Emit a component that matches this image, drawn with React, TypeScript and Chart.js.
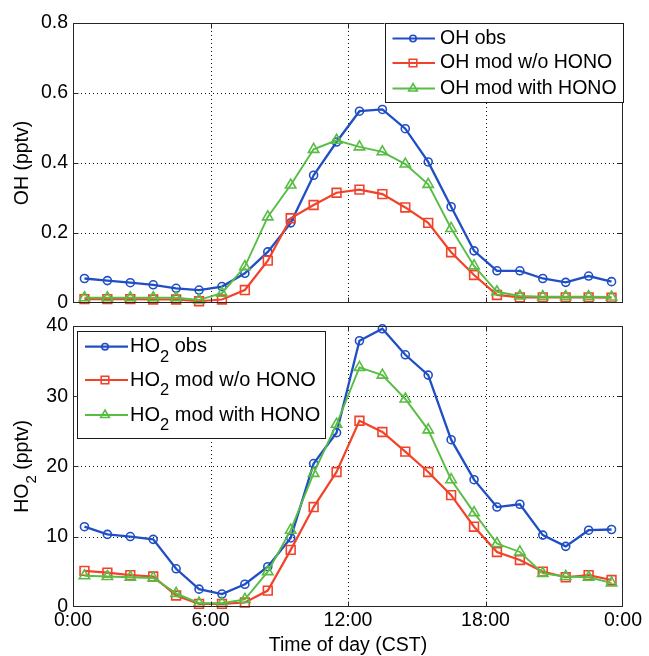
import { useEffect, useRef } from 'react';
import { Chart, registerables } from 'chart.js';

Chart.register(...registerables);

// ---- data (hour of day, CST) ----
const hours = [0.5, 1.5, 2.5, 3.5, 4.5, 5.5, 6.5, 7.5, 8.5, 9.5, 10.5, 11.5, 12.5, 13.5, 14.5, 15.5, 16.5, 17.5, 18.5, 19.5, 20.5, 21.5, 22.5, 23.5];

const ohObs = [0.070, 0.064, 0.058, 0.052, 0.042, 0.037, 0.047, 0.085, 0.146, 0.229, 0.365, 0.460, 0.548, 0.553, 0.498, 0.403, 0.275, 0.149, 0.092, 0.092, 0.070, 0.059, 0.077, 0.061];
const ohModNoHono = [0.011, 0.011, 0.011, 0.010, 0.010, 0.005, 0.010, 0.037, 0.121, 0.242, 0.280, 0.315, 0.324, 0.311, 0.273, 0.229, 0.145, 0.080, 0.023, 0.016, 0.016, 0.016, 0.016, 0.015];
const ohModHono = [0.015, 0.015, 0.015, 0.015, 0.015, 0.009, 0.028, 0.104, 0.246, 0.337, 0.439, 0.465, 0.446, 0.432, 0.397, 0.339, 0.213, 0.106, 0.032, 0.020, 0.018, 0.018, 0.018, 0.017];

const ho2Obs = [11.4, 10.3, 10.0, 9.6, 5.4, 2.5, 1.8, 3.2, 5.7, 9.8, 20.4, 24.8, 37.9, 39.6, 35.9, 33.0, 23.8, 18.1, 14.2, 14.6, 10.2, 8.6, 10.9, 11.0];
const ho2ModNoHono = [5.1, 4.85, 4.5, 4.3, 1.6, 0.4, 0.4, 0.6, 2.3, 8.1, 14.2, 19.2, 26.5, 24.9, 22.1, 19.2, 15.9, 11.4, 7.8, 6.65, 5.0, 4.2, 4.5, 3.8];
const ho2ModHono = [4.4, 4.3, 4.2, 4.1, 1.9, 0.5, 0.5, 1.05, 5.0, 10.9, 19.0, 26.0, 34.1, 33.0, 29.6, 25.2, 18.1, 13.4, 9.0, 7.8, 4.75, 4.3, 4.2, 3.4];

const timeTicks = [0, 6, 12, 18, 24];
const timeTickLabels = ['0:00', '6:00', '12:00', '18:00', '0:00'];

const ohLabels = ['OH obs', 'OH mod w/o HONO', 'OH mod with HONO'];
const ho2Labels = [' obs', ' mod w/o HONO', ' mod with HONO'];

const BLUE = '#204ec4';
const RED = '#f2432a';
const GREEN = '#57bd43';
const FONT = "'Liberation Sans', Arial, Helvetica, sans-serif";

type Part = { t: string; sub?: boolean };
type Marker = 'circle' | 'rect' | 'triangle';

function drawParts(ctx: CanvasRenderingContext2D, parts: Part[], x: number, y: number, size: number, subSize: number, subDy: number) {
  ctx.textAlign = 'left';
  ctx.textBaseline = 'middle';
  let cx = x;
  for (const p of parts) {
    ctx.font = `${p.sub ? subSize : size}px ${FONT}`;
    ctx.fillText(p.t, cx, p.sub ? y + subDy : y);
    cx += ctx.measureText(p.t).width;
  }
}
function measureParts(ctx: CanvasRenderingContext2D, parts: Part[], size: number, subSize: number) {
  let w = 0;
  for (const p of parts) {
    ctx.font = `${p.sub ? subSize : size}px ${FONT}`;
    w += ctx.measureText(p.t).width;
  }
  return w;
}
function drawMarker(ctx: CanvasRenderingContext2D, kind: Marker, x: number, y: number, r: number) {
  ctx.beginPath();
  if (kind === 'circle') {
    ctx.arc(x, y, r, 0, Math.PI * 2);
  } else if (kind === 'rect') {
    ctx.rect(x - r, y - r, 2 * r, 2 * r);
  } else {
    const h = r * Math.sqrt(3) / 2;
    ctx.moveTo(x, y - r);
    ctx.lineTo(x + h, y + r / 2);
    ctx.lineTo(x - h, y + r / 2);
    ctx.closePath();
  }
  ctx.stroke();
}

type LegendCfg = {
  anchor: 'right' | 'left';
  dx: number; dy: number; w: number; h: number;
  rows: number[]; lineX0: number; lineX1: number; markX: number; textX: number;
  size: number; subSize: number; subDy: number;
  items: { parts: Part[]; color: string; marker: Marker; markR: number; lw: number }[];
};
type DecorCfg = {
  legend: LegendCfg;
  yTitle: { parts: Part[]; x: number; size: number; subSize: number; subDy: number };
  xTitle: { text: string; y: number; size: number } | null;
  xMax: number; yMax: number;
};

function makeDecor(cfg: DecorCfg) {
  return {
    id: 'decor',
    beforeDatasetsDraw(chart: any) {
      const { ctx, chartArea: a, scales } = chart;
      ctx.save();
      ctx.strokeStyle = '#111';
      ctx.lineWidth = 1;
      ctx.setLineDash([1, 3]);
      for (const t of scales.x.ticks) {
        if (t.value <= 0 || t.value >= cfg.xMax) continue;
        const px = Math.round(scales.x.getPixelForValue(t.value)) + 0.5;
        ctx.beginPath(); ctx.moveTo(px, a.top); ctx.lineTo(px, a.bottom); ctx.stroke();
      }
      for (const t of scales.y.ticks) {
        if (t.value <= 0 || t.value >= cfg.yMax - 1e-9) continue;
        const py = Math.round(scales.y.getPixelForValue(t.value)) + 0.5;
        ctx.beginPath(); ctx.moveTo(a.left, py); ctx.lineTo(a.right, py); ctx.stroke();
      }
      ctx.restore();
    },
    afterDraw(chart: any) {
      const { ctx, chartArea: a, scales } = chart;
      ctx.save();
      // box
      ctx.setLineDash([]);
      ctx.strokeStyle = '#262626';
      ctx.lineWidth = 1;
      const L = Math.round(a.left) + 0.5, R = Math.round(a.right) - 0.5, T = Math.round(a.top) + 0.5, B = Math.round(a.bottom) - 0.5;
      ctx.strokeRect(L, T, R - L, B - T);
      // inward tick marks
      ctx.beginPath();
      for (const t of scales.x.ticks) {
        if (t.value <= 0 || t.value >= cfg.xMax) continue;
        const px = Math.round(scales.x.getPixelForValue(t.value)) + 0.5;
        ctx.moveTo(px, B); ctx.lineTo(px, B - 5);
        ctx.moveTo(px, T); ctx.lineTo(px, T + 5);
      }
      for (const t of scales.y.ticks) {
        if (t.value <= 0 || t.value >= cfg.yMax - 1e-9) continue;
        const py = Math.round(scales.y.getPixelForValue(t.value)) + 0.5;
        ctx.moveTo(L, py); ctx.lineTo(L + 5, py);
        ctx.moveTo(R, py); ctx.lineTo(R - 5, py);
      }
      ctx.stroke();

      // legend
      const lg = cfg.legend;
      const bx = lg.anchor === 'right' ? a.right - lg.w + lg.dx : a.left + lg.dx;
      const by = a.top + lg.dy;
      ctx.fillStyle = '#fff';
      ctx.fillRect(bx, by, lg.w, lg.h);
      ctx.strokeStyle = '#1a1a1a';
      ctx.strokeRect(Math.round(bx) + 0.5, Math.round(by) + 0.5, Math.round(lg.w) - 1, Math.round(lg.h) - 1);
      lg.items.forEach((it, i) => {
        const ry = by + lg.rows[i];
        ctx.strokeStyle = it.color;
        ctx.lineWidth = it.lw;
        ctx.beginPath(); ctx.moveTo(bx + lg.lineX0, ry); ctx.lineTo(bx + lg.lineX1, ry); ctx.stroke();
        ctx.lineWidth = 1.6;
        ctx.fillStyle = '#fff';
        drawMarker(ctx, it.marker, bx + lg.markX, ry, it.markR);
        ctx.fillStyle = '#000';
        drawParts(ctx, it.parts, bx + lg.textX, ry, lg.size, lg.subSize, lg.subDy);
      });

      // y title (rotated)
      const yt = cfg.yTitle;
      ctx.save();
      ctx.translate(yt.x, (a.top + a.bottom) / 2);
      ctx.rotate(-Math.PI / 2);
      ctx.fillStyle = '#000';
      const w = measureParts(ctx, yt.parts, yt.size, yt.subSize);
      drawParts(ctx, yt.parts, -w / 2, 0, yt.size, yt.subSize, yt.subDy);
      ctx.restore();

      // x title
      if (cfg.xTitle) {
        ctx.fillStyle = '#000';
        ctx.font = `${cfg.xTitle.size}px ${FONT}`;
        ctx.textAlign = 'center';
        ctx.textBaseline = 'middle';
        ctx.fillText(cfg.xTitle.text, (a.left + a.right) / 2, cfg.xTitle.y);
      }
      ctx.restore();
    },
  };
}

function series(vals: number[]) {
  return hours.map((h, i) => ({ x: h, y: vals[i] }));
}

function makeDatasets(obs: number[], noHono: number[], hono: number[], labels: string[]) {
  return [
    { label: labels[0], data: series(obs), borderColor: BLUE, borderWidth: 2.3, pointStyle: 'circle', pointRadius: 4, pointBorderWidth: 1.6, pointBorderColor: BLUE, pointBackgroundColor: 'rgba(0,0,0,0)', order: 2, clip: false as any },
    { label: labels[1], data: series(noHono), borderColor: RED, borderWidth: 2.2, pointStyle: 'rect', pointRadius: 6.2, pointBorderWidth: 1.6, pointBorderColor: RED, pointBackgroundColor: 'rgba(0,0,0,0)', order: 1, clip: false as any },
    { label: labels[2], data: series(hono), borderColor: GREEN, borderWidth: 1.9, pointStyle: 'triangle', pointRadius: 6, pointBorderWidth: 1.6, pointBorderColor: GREEN, pointBackgroundColor: 'rgba(0,0,0,0)', order: 0, clip: false as any },
  ];
}

function makeOptions(yMax: number, yStep: number, showX: boolean, xHeight: number, padding: any) {
  return {
    responsive: false,
    animation: false as const,
    events: [],
    layout: { padding },
    plugins: { legend: { display: false }, tooltip: { enabled: false } },
    scales: {
      x: {
        type: 'linear' as const,
        min: 0,
        max: 24,
        afterFit: (s: any) => { s.height = xHeight; },
        grid: { display: false, drawTicks: false },
        border: { display: false },
        ticks: {
          display: showX,
          stepSize: 6,
          padding: 2,
          maxRotation: 0,
          autoSkip: false,
          color: '#000',
          font: { family: FONT, size: 19.5 },
          callback: (v: any) => {
            const k = timeTicks.indexOf(Number(v));
            return k >= 0 ? timeTickLabels[k] : '';
          },
        },
      },
      y: {
        type: 'linear' as const,
        min: 0,
        max: yMax,
        afterFit: (s: any) => { s.width = 73; },
        grid: { display: false, drawTicks: false },
        border: { display: false },
        ticks: { stepSize: yStep, padding: 5, color: '#000', font: { family: FONT, size: 19.5 } },
      },
    },
  };
}

export default function App() {
  const topRef = useRef<HTMLCanvasElement>(null);
  const botRef = useRef<HTMLCanvasElement>(null);

  useEffect(() => {
    const topDecor = makeDecor({
      xMax: 24,
      yMax: 0.8,
      legend: {
        anchor: 'right', dx: 0, dy: 0, w: 238.5, h: 80,
        rows: [15.5, 40, 65.5], lineX0: 8, lineX1: 50.5, markX: 28.5, textX: 55.5,
        size: 19.5, subSize: 15, subDy: 10,
        items: [
          { parts: [{ t: ohLabels[0] }], color: BLUE, marker: 'circle', markR: 3.2, lw: 2.2 },
          { parts: [{ t: ohLabels[1] }], color: RED, marker: 'rect', markR: 3.8, lw: 2.2 },
          { parts: [{ t: ohLabels[2] }], color: GREEN, marker: 'triangle', markR: 5, lw: 1.9 },
        ],
      },
      yTitle: { parts: [{ t: 'OH (pptv)' }], x: 23, size: 19.5, subSize: 15, subDy: 9 },
      xTitle: null,
    });
    const botDecor = makeDecor({
      xMax: 24,
      yMax: 40,
      legend: {
        anchor: 'left', dx: 3.7, dy: 4.5, w: 248.5, h: 107.5,
        rows: [16.2, 49.5, 84.5], lineX0: 8.3, lineX1: 51.3, markX: 28.3, textX: 53.3,
        size: 20, subSize: 16.5, subDy: 10.5,
        items: [
          { parts: [{ t: 'HO' }, { t: '2', sub: true }, { t: ho2Labels[0] }], color: BLUE, marker: 'circle', markR: 3.2, lw: 2.2 },
          { parts: [{ t: 'HO' }, { t: '2', sub: true }, { t: ho2Labels[1] }], color: RED, marker: 'rect', markR: 3.8, lw: 2.2 },
          { parts: [{ t: 'HO' }, { t: '2', sub: true }, { t: ho2Labels[2] }], color: GREEN, marker: 'triangle', markR: 5, lw: 1.9 },
        ],
      },
      yTitle: { parts: [{ t: 'HO' }, { t: '2', sub: true }, { t: ' (pptv)' }], x: 23, size: 19.5, subSize: 15, subDy: 9 },
      xTitle: { text: 'Time of day (CST)', y: 346, size: 19.5 },
    });

    const c1 = new Chart(topRef.current as HTMLCanvasElement, {
      type: 'line',
      data: { datasets: makeDatasets(ohObs, ohModNoHono, ohModHono, ohLabels) as any },
      options: makeOptions(0.8, 0.2, false, 0, { left: 0, right: 26, top: 23, bottom: 27 }) as any,
      plugins: [topDecor as any],
    });
    const c2 = new Chart(botRef.current as HTMLCanvasElement, {
      type: 'line',
      data: { datasets: makeDatasets(ho2Obs, ho2ModNoHono, ho2ModHono, ho2Labels) as any },
      options: makeOptions(40, 10, true, 49.3, { left: 0, right: 26, top: 26, bottom: 0 }) as any,
      plugins: [botDecor as any],
    });
    return () => {
      c1.destroy();
      c2.destroy();
    };
  }, []);

  return (
    <div style={{ position: 'absolute', left: 0, top: 0, width: 649, height: 656, background: '#fff' }}>
      <canvas ref={topRef} width={649} height={330} style={{ position: 'absolute', left: 0, top: 0, width: 649, height: 330 }} />
      <canvas ref={botRef} width={649} height={356} style={{ position: 'absolute', left: 0, top: 300, width: 649, height: 356 }} />
    </div>
  );
}
